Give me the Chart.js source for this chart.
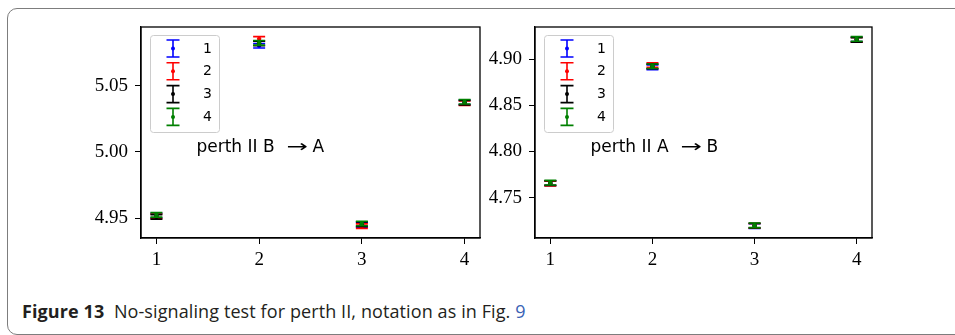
<!DOCTYPE html>
<html>
<head>
<meta charset="utf-8">
<script src="https://cdn.jsdelivr.net/npm/chart.js@4"></script>
<style>
  html, body { margin: 0; padding: 0; width: 955px; height: 335px; overflow: hidden; background: #fff; }
  #frame { position: absolute; left: 7px; top: 8px; width: 990px; height: 327px; box-sizing: border-box;
           border: 1.5px solid #7d7d7d; border-radius: 10px; }
  canvas { position: absolute; top: 0; }
  #caption { position: absolute; left: 22px; top: 301px; font-family: "Open Sans", sans-serif; font-size: 18px;
             line-height: 20px; letter-spacing: 0.1px; color: #231f20; white-space: nowrap; }
  #caption b { font-weight: 700; }
  #caption .ref { color: #3a62b5; }
</style>
</head>
<body>
<div id="frame"></div>
<canvas id="chartBA" width="486" height="270" style="left:0px"></canvas>
<canvas id="chartAB" width="400" height="270" style="left:480px"></canvas>
<div id="caption"><b>Figure 13</b>&nbsp; No-signaling test for perth II, notation as in Fig. <span class="ref">9</span></div>
<script>
// Measurement settings on the horizontal axis
const CATEGORIES = [1, 2, 3, 4];
const X_TICKS = [1, 2, 3, 4];
const SERIES_LABELS = ['1', '2', '3', '4'];
const SERIES_COLORS = ['#0000ff', '#ff0000', '#000000', '#008000'];

// perth II, B -> A
const BA_SERIES_1 = [4.9520, 5.0800, 4.9450, 5.0374];
const BA_SERIES_2 = [4.9515, 5.0852, 4.9440, 5.0366];
const BA_SERIES_3 = [4.9510, 5.0818, 4.9455, 5.0370];
const BA_SERIES_4 = [4.9525, 5.0822, 4.9460, 5.0378];
const BA_ERR = [0.0017, 0.0017, 0.0017, 0.0017];
const BA_Y_TICKS = [4.95, 5.00, 5.05];

// perth II, A -> B
const AB_SERIES_1 = [4.7656, 4.8910, 4.7192, 4.9214];
const AB_SERIES_2 = [4.7652, 4.8935, 4.7195, 4.9208];
const AB_SERIES_3 = [4.7658, 4.8920, 4.7197, 4.9206];
const AB_SERIES_4 = [4.7662, 4.8922, 4.7200, 4.9218];
const AB_ERR = [0.0025, 0.0025, 0.0025, 0.0025];
const AB_Y_TICKS = [4.75, 4.80, 4.85, 4.90];

const SERIF = '"Liberation Serif", "DejaVu Serif", serif';
const SANS = '"DejaVu Sans", sans-serif';

// vertical error bar with caps, drawn just before each dataset's markers
const errorBars = {
  id: 'errorBars',
  beforeDatasetDraw(chart, args) {
    const ds = chart.data.datasets[args.index];
    const xs = chart.scales.x, ys = chart.scales.y;
    const ctx = chart.ctx;
    ctx.save();
    ctx.strokeStyle = ds.borderColor;
    ctx.lineWidth = 1.6;
    ds.data.forEach((p, i) => {
      const e = ds.errors[i];
      const x = xs.getPixelForValue(p.x);
      const yTop = ys.getPixelForValue(p.y + e);
      const yBot = ys.getPixelForValue(p.y - e);
      ctx.beginPath();
      ctx.moveTo(x, yTop); ctx.lineTo(x, yBot);
      ctx.moveTo(x - 6, yTop); ctx.lineTo(x + 6, yTop);
      ctx.moveTo(x - 6, yBot); ctx.lineTo(x + 6, yBot);
      ctx.stroke();
    });
    ctx.restore();
  }
};

// closed axes box, inset legend and panel annotation
const decorations = {
  id: 'decorations',
  afterDraw(chart, args, opts) {
    const ctx = chart.ctx;
    const a = chart.chartArea;
    ctx.save();
    ctx.strokeStyle = '#000';
    ctx.lineWidth = 1.3;
    ctx.strokeRect(a.left, a.top, a.right - a.left, a.bottom - a.top);

    // legend box
    const bx = a.left + 9, by = a.top + 8, bw = 69, bh = 97;
    ctx.beginPath();
    ctx.roundRect(bx + 0.5, by + 0.5, bw, bh, 3);
    ctx.fillStyle = 'rgba(255,255,255,0.8)';
    ctx.fill();
    ctx.strokeStyle = '#cccccc';
    ctx.lineWidth = 1;
    ctx.stroke();

    chart.data.datasets.forEach((ds, i) => {
      const gx = a.left + 32, gy = a.top + 21.5 + i * 22.8;
      ctx.strokeStyle = ds.borderColor;
      ctx.lineWidth = 1.6;
      ctx.beginPath();
      ctx.moveTo(gx, gy - 8.5); ctx.lineTo(gx, gy + 8.5);
      ctx.moveTo(gx - 6.5, gy - 8.5); ctx.lineTo(gx + 6.5, gy - 8.5);
      ctx.moveTo(gx - 6.5, gy + 8.5); ctx.lineTo(gx + 6.5, gy + 8.5);
      ctx.stroke();
      ctx.fillStyle = ds.borderColor;
      ctx.beginPath();
      ctx.arc(gx, gy, 2, 0, Math.PI * 2);
      ctx.fill();
      ctx.fillStyle = '#000';
      ctx.font = '14px ' + SANS;
      ctx.textAlign = 'left';
      ctx.textBaseline = 'middle';
      ctx.fillText(ds.label, a.left + 62, gy + 0.5);
    });

    // annotation: "perth II X → Y"
    const tx = a.left + 55.4, ty = a.top + 125.4;
    ctx.fillStyle = '#000';
    ctx.font = '17px ' + SANS;
    ctx.textAlign = 'left';
    ctx.textBaseline = 'alphabetic';
    const head = 'perth II ' + opts.from;
    ctx.fillText(head, tx, ty);
    const w = ctx.measureText(head).width;
    const arrowX = tx + Math.max(w, 80) + 10;
    ctx.save();
    ctx.translate(arrowX, ty);
    ctx.scale(1.5, 1);
    ctx.fillText('\u2192', 0, 0);
    ctx.restore();
    ctx.fillText(opts.to, arrowX + 26, ty);
    ctx.restore();
  }
};

function buildChart(canvasId, series, errs, yTicks, yWidth, padRight, from, to) {
  let lo = Infinity, hi = -Infinity;
  series.forEach(vals => vals.forEach((v, i) => {
    lo = Math.min(lo, v - errs[i]);
    hi = Math.max(hi, v + errs[i]);
  }));
  const margin = 0.05 * (hi - lo);

  const datasets = series.map((vals, s) => ({
    label: SERIES_LABELS[s],
    data: CATEGORIES.map((c, i) => ({ x: c, y: vals[i] })),
    errors: errs,
    borderColor: SERIES_COLORS[s],
    backgroundColor: SERIES_COLORS[s],
    pointRadius: 2.2,
    pointBorderWidth: 0,
    showLine: false,
    order: series.length - 1 - s
  }));

  return new Chart(document.getElementById(canvasId), {
    type: 'scatter',
    data: { datasets },
    plugins: [errorBars, decorations],
    options: {
      responsive: false,
      animation: false,
      devicePixelRatio: 1,
      layout: { padding: { top: 27, right: padRight, bottom: 0, left: 0 } },
      plugins: {
        legend: { display: false },
        tooltip: { enabled: false },
        decorations: { from, to }
      },
      scales: {
        x: {
          type: 'linear',
          min: 0.85,
          max: 4.15,
          afterBuildTicks: s => { s.ticks = X_TICKS.map(v => ({ value: v })); },
          afterFit: s => { s.height = 32; },
          ticks: { callback: v => String(v), font: { family: SERIF, size: 19 }, color: '#000', padding: 5, maxRotation: 0 },
          grid: { drawOnChartArea: false, drawTicks: true, tickLength: 6, color: '#000', lineWidth: 1 },
          border: { display: true, color: '#000', width: 1.3 }
        },
        y: {
          type: 'linear',
          min: lo - margin,
          max: hi + margin,
          afterBuildTicks: s => { s.ticks = yTicks.map(v => ({ value: v })); },
          afterFit: s => { s.width = yWidth; },
          ticks: { callback: v => v.toFixed(2), font: { family: SERIF, size: 19 }, color: '#000', padding: 7 },
          grid: { drawOnChartArea: false, drawTicks: true, tickLength: 6, color: '#000', lineWidth: 1 },
          border: { display: true, color: '#000', width: 1.3 }
        }
      }
    }
  });
}

buildChart('chartBA', [BA_SERIES_1, BA_SERIES_2, BA_SERIES_3, BA_SERIES_4], BA_ERR, BA_Y_TICKS, 141, 6, 'B', 'A');
buildChart('chartAB', [AB_SERIES_1, AB_SERIES_2, AB_SERIES_3, AB_SERIES_4], AB_ERR, AB_Y_TICKS, 55, 8, 'A', 'B');
</script>
</body>
</html>
